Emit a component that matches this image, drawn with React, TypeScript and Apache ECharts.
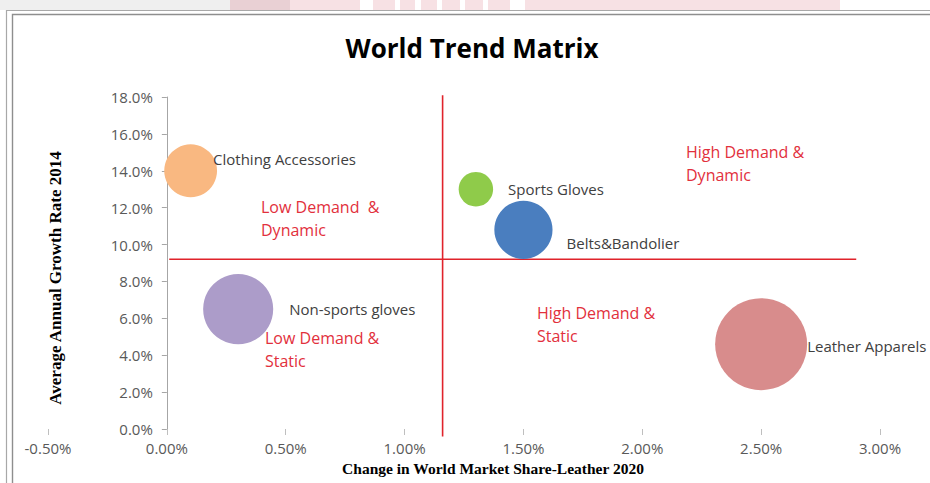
import React, { useEffect, useRef } from "react";
import * as echarts from "echarts";

// ---- data ----
const categories = [
  "Clothing Accessories",
  "Sports Gloves",
  "Belts&Bandolier",
  "Non-sports gloves",
  "Leather Apparels",
];
const marketShareChange = [0.1, 1.3, 1.5, 0.3, 2.5]; // % (x)
const growthRate = [14.0, 13.0, 10.8, 6.5, 4.6]; // % (y)
const bubbleSize = [33, 14, 40, 58, 100]; // relative size

const xMin = -0.5;
const xMax = 3.0;
const xStep = 0.5;
const yMin = 0;
const yMax = 18;
const yStep = 2;

const dividerX = 1.16;
const dividerY = 9.2;
const dividerXRange = [18.1, -0.4];
const dividerYRange = [0.01, 2.9];

const quadrantLabels = [
  "Low Demand  &\nDynamic",
  "High Demand &\nDynamic",
  "Low Demand &\nStatic",
  "High Demand &\nStatic",
];

const titleText = "World Trend Matrix";
const xAxisName = "Change in World Market Share-Leather 2020";
const yAxisName = "Average Annual Growth Rate 2014";

// ---- styles ----
const bubbleColors = ["#F9B881", "#8FCB4A", "#4A7EBF", "#AC9CC9", "#D88C8C"];
const labelOffsets = [
  [-4, -12],
  [15, 0],
  [14, 13],
  [16, 0],
  [0, 2],
];
const quadrantPos = [
  [261, 195],
  [686, 140],
  [265, 326],
  [537, 301],
];
const SANS = '"Open Sans", "Noto Sans", sans-serif';
const SERIF = '"Liberation Serif", "DejaVu Serif", serif';
const RED = "#E0232B";
const QRED = "#E2303C";

const GRID_LEFT = 48;
const GRID_RIGHT = 50;
const CHART_W = 930;

export default function App() {
  const ref = useRef<HTMLDivElement>(null);

  useEffect(() => {
    if (!ref.current) return;
    const chart = echarts.init(ref.current, null, { renderer: "svg" });

    const bubbleData = categories.map((name, i) => ({
      name,
      value: [marketShareChange[i], growthRate[i], bubbleSize[i]],
      itemStyle: { color: bubbleColors[i] },
      label: { offset: labelOffsets[i] },
    }));

    // y axis sits at x = 0 of the x axis
    const plotW = CHART_W - GRID_LEFT - GRID_RIGHT;
    const zeroOffset = ((0 - xMin) / (xMax - xMin)) * plotW;

    const stripes = [
      [360, 13],
      [395, 5],
      [415, 6],
      [437, 5],
      [460, 5],
      [483, 5],
      [510, 15],
    ];

    const graphic: any[] = [
      { type: "rect", shape: { x: 0, y: 0, width: 230, height: 10 }, style: { fill: "#efefef" }, silent: true },
      { type: "rect", shape: { x: 230, y: 0, width: 60, height: 10 }, style: { fill: "#e9d0d4" }, silent: true },
      { type: "rect", shape: { x: 290, y: 0, width: 550, height: 10 }, style: { fill: "#f7e1e4" }, silent: true },
      ...stripes.map(([x, w]) => ({
        type: "rect",
        shape: { x, y: 0, width: w, height: 10 },
        style: { fill: "#ffffff" },
        silent: true,
      })),
      {
        type: "rect",
        shape: { x: 6.5, y: 10.5, width: 1000, height: 1000 },
        style: { fill: "none", stroke: "#a8a8a8", lineWidth: 1.2 },
        silent: true,
      },
      {
        type: "rect",
        shape: { x: 12.5, y: 14.5, width: 1000, height: 1000 },
        style: { fill: "none", stroke: "#8e8e8e", lineWidth: 1.4 },
        silent: true,
      },
      {
        type: "text",
        x: 472,
        y: 48,
        style: {
          text: titleText,
          fontFamily: SANS,
          fontWeight: "bold",
          fontSize: 26,
          fill: "#000",
          textAlign: "center",
          textVerticalAlign: "middle",
        },
      },
      {
        type: "text",
        x: 493,
        y: 468,
        style: {
          text: xAxisName,
          fontFamily: SERIF,
          fontWeight: "bold",
          fontSize: 15.5,
          fill: "#000",
          textAlign: "center",
          textVerticalAlign: "middle",
        },
      },
      {
        type: "text",
        x: 55,
        y: 278,
        rotation: Math.PI / 2,
        style: {
          text: yAxisName,
          fontFamily: SERIF,
          fontWeight: "bold",
          fontSize: 17,
          fill: "#000",
          textAlign: "center",
          textVerticalAlign: "middle",
        },
      },
      ...quadrantLabels.map((t, i) => ({
        type: "text",
        x: quadrantPos[i][0],
        y: quadrantPos[i][1],
        z: 10,
        style: {
          text: t,
          fontFamily: SANS,
          fontSize: 16,
          lineHeight: 23,
          fill: QRED,
          textAlign: "left",
          textVerticalAlign: "top",
        },
      })),
    ];

    chart.setOption({
      animation: false,
      backgroundColor: "#ffffff",
      graphic,
      grid: {
        left: GRID_LEFT,
        right: GRID_RIGHT,
        top: 97,
        bottom: 54,
        containLabel: false,
        outerBoundsMode: "none",
      },
      xAxis: {
        type: "value",
        min: xMin,
        max: xMax,
        interval: xStep,
        splitLine: { show: false },
        axisLine: { show: false, onZero: false },
        axisTick: { show: true, length: 6, lineStyle: { color: "#bfbfbf" } },
        axisLabel: {
          margin: 11,
          color: "#595959",
          fontFamily: SANS,
          fontSize: 15,
          formatter: (v: number) => v.toFixed(2) + "%",
        },
      },
      yAxis: {
        type: "value",
        min: yMin,
        max: yMax,
        interval: yStep,
        offset: -zeroOffset,
        splitLine: { show: false },
        axisLine: { show: true, onZero: false, lineStyle: { color: "#a6a6a6" } },
        axisTick: { show: true, length: 5, lineStyle: { color: "#a6a6a6" } },
        axisLabel: {
          margin: 14,
          color: "#595959",
          fontFamily: SANS,
          fontSize: 15,
          formatter: (v: number) => v.toFixed(1) + "%",
        },
      },
      series: [
        {
          type: "line",
          clip: false,
          symbol: "none",
          silent: true,
          data: [
            [dividerX, dividerXRange[0]],
            [dividerX, dividerXRange[1]],
          ],
          lineStyle: { color: RED, width: 1.6 },
          z: 1,
        },
        {
          type: "line",
          clip: false,
          symbol: "none",
          silent: true,
          data: [
            [dividerYRange[0], dividerY],
            [dividerYRange[1], dividerY],
          ],
          lineStyle: { color: RED, width: 1.6 },
          z: 1,
        },
        {
          type: "scatter",
          clip: false,
          z: 3,
          symbolSize: (val: number[]) => 9.2 * Math.sqrt(val[2]),
          itemStyle: { opacity: 1 },
          label: {
            show: true,
            position: "right",
            distance: 0,
            color: "#404040",
            fontFamily: SANS,
            fontSize: 15,
            formatter: (p: any) => p.name,
          },
          data: bubbleData,
        },
      ],
    });

    return () => chart.dispose();
  }, []);

  return (
    <div
      ref={ref}
      style={{ position: "absolute", left: 0, top: 0, width: CHART_W, height: 483, background: "#fff" }}
    />
  );
}
